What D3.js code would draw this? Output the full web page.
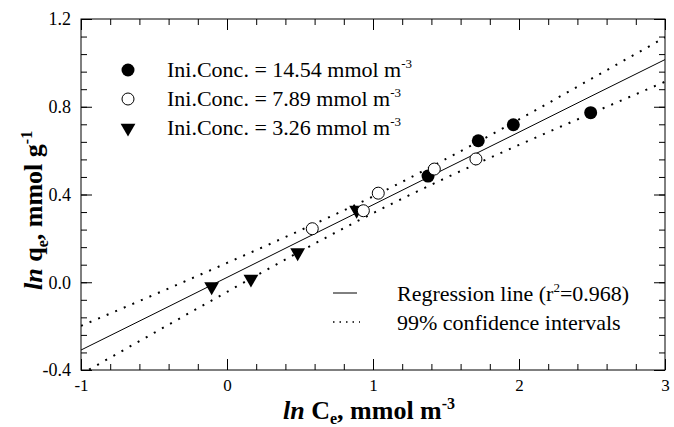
<!DOCTYPE html>
<html>
<head>
<meta charset="utf-8">
<script src="https://cdn.jsdelivr.net/npm/d3@7"></script>
<style>
  body { margin: 0; background: #fff; }
  svg text { font-family: "Liberation Serif", "Times New Roman", serif; fill: #000; }
</style>
</head>
<body>
<div id="chart"></div>
<script>
// datos
const highX = [1.377, 1.721, 1.961, 2.491];
const highY = [0.484, 0.645, 0.718, 0.773];
const midX = [0.584, 0.934, 1.036, 1.420, 1.705];
const midY = [0.244, 0.326, 0.406, 0.516, 0.562];
const lowX = [-0.105, 0.164, 0.484, 0.888];
const lowY = [-0.020, 0.015, 0.135, 0.329];

const bandX = [-1, -0.5, 0, 0.5, 1, 1.5, 2, 2.5, 3];
const fitY = [-0.309, -0.144, 0.022, 0.188, 0.353, 0.519, 0.684, 0.850, 1.015];
const upperY = [-0.199, -0.057, 0.088, 0.236, 0.391, 0.562, 0.742, 0.929, 1.116];
const lowerY = [-0.419, -0.231, -0.044, 0.140, 0.315, 0.476, 0.626, 0.771, 0.914];

const xTicks = [-1, 0, 1, 2, 3];
const yTicks = [-0.4, 0.0, 0.4, 0.8, 1.2];

const width = 674, height = 427;
const m = { left: 81, right: 9, top: 19, bottom: 57 };
const serif = '"Liberation Serif", "Times New Roman", serif';

const svg = d3.select('#chart').append('svg')
  .attr('width', width).attr('height', height);

const x = d3.scaleLinear().domain([-1, 3]).range([m.left, width - m.right]);
const y = d3.scaleLinear().domain([-0.4, 1.2]).range([height - m.bottom, m.top]);

const xMinor = d3.range(-1, 3.0001, 0.2).map(v => +v.toFixed(2));
const yMinor = d3.range(-0.4, 1.2001, 0.08).map(v => +v.toFixed(2));

// ejes con ticks hacia dentro
function drawAxis(axisFn, scale, ticks, size, transform, labels) {
  const g = svg.append('g').attr('transform', transform)
    .call(axisFn(scale).tickValues(ticks).tickSize(size).tickPadding(8)
      .tickFormat(labels ? labels : () => ''));
  g.attr('font-family', serif);
  g.select('.domain').remove();
  g.selectAll('line').attr('stroke', '#000');
  return g;
}

const atBottom = `translate(0,${y(-0.4)})`, atTop = `translate(0,${y(1.2)})`;
const atLeft = `translate(${x(-1)},0)`, atRight = `translate(${x(3)},0)`;

drawAxis(d3.axisBottom, x, xMinor, -6, atBottom);
drawAxis(d3.axisTop, x, xMinor, -6, atTop);
drawAxis(d3.axisLeft, y, yMinor, -6, atLeft);
drawAxis(d3.axisRight, y, yMinor, -6, atRight);
drawAxis(d3.axisTop, x, xTicks, -11, atTop);
drawAxis(d3.axisRight, y, yTicks, -11, atRight);

// guion normal en vez del signo menos
const hyphen = f => v => f(v).replace('\u2212', '-');

const xAx = drawAxis(d3.axisBottom, x, xTicks, -11, atBottom, hyphen(d3.format('d')));
xAx.selectAll('text').attr('font-size', 17).attr('y', 9);
const yAx = drawAxis(d3.axisLeft, y, yTicks, -11, atLeft, hyphen(d3.format('.1f')));
yAx.selectAll('text').attr('font-size', 18).attr('x', -10);

svg.append('rect')
  .attr('x', x(-1)).attr('y', y(1.2))
  .attr('width', x(3) - x(-1)).attr('height', y(-0.4) - y(1.2))
  .attr('fill', 'none').attr('stroke', '#000').attr('stroke-width', 1);

svg.append('clipPath').attr('id', 'plot-clip').append('rect')
  .attr('x', x(-1)).attr('y', y(1.2))
  .attr('width', x(3) - x(-1)).attr('height', y(-0.4) - y(1.2));

const plot = svg.append('g').attr('clip-path', 'url(#plot-clip)');

const line = d3.line().x(d => x(d[0])).y(d => y(d[1])).curve(d3.curveMonotoneX);

plot.append('path')
  .attr('d', line(bandX.map((v, i) => [v, fitY[i]])))
  .attr('fill', 'none').attr('stroke', '#000').attr('stroke-width', 1);

[upperY, lowerY].forEach(band => {
  plot.append('path')
    .attr('d', line(bandX.map((v, i) => [v, band[i]])))
    .attr('fill', 'none').attr('stroke', '#000')
    .attr('stroke-width', 2).attr('stroke-dasharray', '2 7.3');
});

// simbolos
const tri = d3.symbol().type(d3.symbolTriangle).size(95);

plot.append('g').selectAll('path')
  .data(lowX.map((v, i) => [v, lowY[i]]))
  .join('path')
  .attr('d', tri)
  .attr('transform', d => `translate(${x(d[0])},${y(d[1])}) rotate(180)`)
  .attr('fill', '#000');

plot.append('g').selectAll('circle')
  .data(highX.map((v, i) => [v, highY[i]]))
  .join('circle')
  .attr('cx', d => x(d[0])).attr('cy', d => y(d[1])).attr('r', 6.5)
  .attr('fill', '#000');

plot.append('g').selectAll('circle')
  .data(midX.map((v, i) => [v, midY[i]]))
  .join('circle')
  .attr('cx', d => x(d[0])).attr('cy', d => y(d[1])).attr('r', 6)
  .attr('fill', '#fff').attr('stroke', '#000').attr('stroke-width', 1);

// leyenda de simbolos
const legendConc = ['14.54', '7.89', '3.26'];
const leg = svg.append('g');
legendConc.forEach((c, i) => {
  const ly = 70 + i * 29;
  if (i === 0) leg.append('circle').attr('cx', 128).attr('cy', ly).attr('r', 6.5).attr('fill', '#000');
  if (i === 1) leg.append('circle').attr('cx', 128).attr('cy', ly).attr('r', 6)
    .attr('fill', '#fff').attr('stroke', '#000');
  if (i === 2) leg.append('path').attr('d', tri).attr('transform', `translate(128,${ly}) rotate(180)`);
  const t = leg.append('text').attr('x', 167).attr('y', ly + 7).attr('font-size', 22);
  t.append('tspan').text(`Ini.Conc. = ${c} mmol m`);
  t.append('tspan').attr('font-size', 13).attr('dy', -9).text('-3');
});

// leyenda de lineas
svg.append('line').attr('x1', 333).attr('x2', 357).attr('y1', 293).attr('y2', 293)
  .attr('stroke', '#000');
svg.append('line').attr('x1', 333).attr('x2', 360).attr('y1', 322).attr('y2', 322)
  .attr('stroke', '#000').attr('stroke-width', 1.5).attr('stroke-dasharray', '1.5 5');

const r1 = svg.append('text').attr('x', 397).attr('y', 301).attr('font-size', 22);
r1.append('tspan').text('Regression line (r');
r1.append('tspan').attr('font-size', 13).attr('dy', -9).text('2');
r1.append('tspan').attr('dy', 9).text('=0.968)');
svg.append('text').attr('x', 397).attr('y', 330).attr('font-size', 22)
  .text('99% confidence intervals');

// titulos de ejes
const xt = svg.append('text').attr('x', 283).attr('y', 419)
  .attr('font-size', 26).attr('font-weight', 'bold');
xt.append('tspan').attr('font-style', 'italic').text('ln');
xt.append('tspan').text(' C');
xt.append('tspan').attr('font-size', 16).attr('dy', 5).text('e');
xt.append('tspan').attr('dy', -5).text(', mmol m');
xt.append('tspan').attr('font-size', 16).attr('dy', -10).text('-3');

const yt = svg.append('text').attr('transform', 'translate(42,290) rotate(-90)')
  .attr('font-size', 26).attr('font-weight', 'bold');
yt.append('tspan').attr('font-style', 'italic').text('ln');
yt.append('tspan').text(' q');
yt.append('tspan').attr('font-size', 16).attr('dy', 6).text('e');
yt.append('tspan').attr('dy', -6).text(', mmol g');
yt.append('tspan').attr('font-size', 16).attr('dy', -10).text('-1');
</script>
</body>
</html>
